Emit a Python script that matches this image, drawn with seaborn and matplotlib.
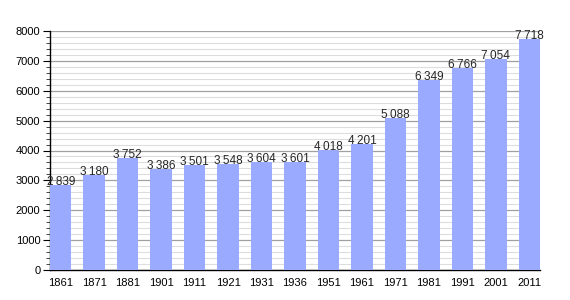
import matplotlib
matplotlib.use("Agg")
import matplotlib.pyplot as plt
import seaborn as sns
import pandas as pd
from matplotlib.ticker import MultipleLocator

years = ["1861", "1871", "1881", "1901", "1911", "1921", "1931", "1936",
         "1951", "1961", "1971", "1981", "1991", "2001", "2011"]
population = [2839, 3180, 3752, 3386, 3501, 3548, 3604, 3601,
              4018, 4201, 5088, 6349, 6766, 7054, 7718]

df = pd.DataFrame({"year": years, "pop": population})

sns.set_style("white")
plt.rcParams['font.family'] = ['Liberation Sans', 'DejaVu Sans']

fig = plt.figure(figsize=(5.7, 3.0), dpi=100)
ax = fig.add_axes([50/570, 30/300, 490/570, 239/300])

sns.barplot(data=df, x="year", y="pop", color="#99aaff", saturation=1,
            width=0.64, ax=ax, zorder=3, linewidth=0)

ax.set_ylim(0, 8000)
ax.set_xlim(-0.32, len(years) - 1 + 0.32)
ax.yaxis.set_major_locator(MultipleLocator(1000))
ax.yaxis.set_minor_locator(MultipleLocator(200))
ax.grid(axis="y", which="major", color="#a0a0a0", linewidth=0.9, zorder=0)
ax.grid(axis="y", which="minor", color="#dddddd", linewidth=0.8, zorder=0)
ax.set_axisbelow(True)

for s in ["top", "right"]:
    ax.spines[s].set_visible(False)
ax.spines["left"].set_color("black")
ax.spines["bottom"].set_color("black")
ax.spines["left"].set_linewidth(1.0)
ax.spines["bottom"].set_linewidth(1.0)

ax.tick_params(axis="y", which="major", left=True, length=5, width=0.8,
               labelsize=8, pad=2, colors="black")
ax.tick_params(axis="y", which="minor", left=True, length=3, width=0.6)
ax.tick_params(axis="x", bottom=False, labelsize=8, pad=2, colors="black")
ax.set_xlabel("")
ax.set_ylabel("")

for i, v in enumerate(population):
    label = f"{v:,}".replace(",", "\u2009")
    ax.text(i, v, label, ha="center", va="baseline", fontsize=8.5, zorder=5)

fig.savefig("out.png", dpi=100)
